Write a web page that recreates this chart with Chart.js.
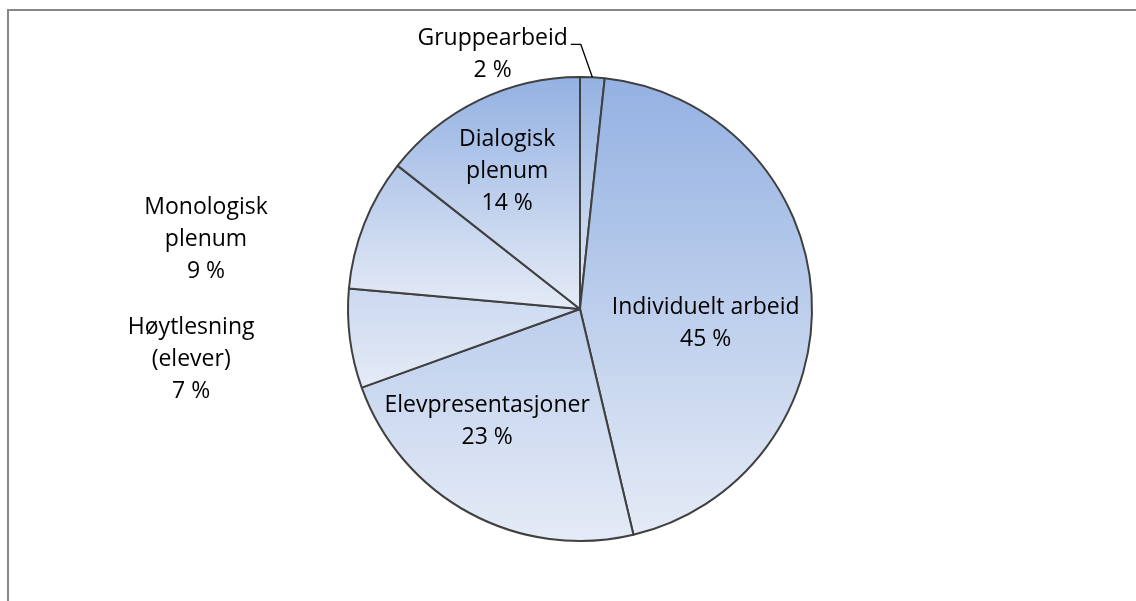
<!DOCTYPE html>
<html>
<head>
<meta charset="utf-8">
<script src="https://cdn.jsdelivr.net/npm/chart.js@4/dist/chart.umd.min.js"></script>
<style>
  html, body { margin: 0; padding: 0; background: #fff; }
  #wrap { position: relative; width: 1136px; height: 601px; overflow: hidden; }
  #frame {
    position: absolute; left: 7px; top: 9px; width: 1200px; height: 700px;
    border-left: 2px solid #888; border-top: 2px solid #888;
  }
  #chart { position: absolute; left: 0; top: 0; }
</style>
</head>
<body>
<div id="wrap">
  <div id="frame"></div>
  <canvas id="chart" width="1136" height="601"></canvas>
</div>
<script>
// Data (clockwise from 12 o'clock)
const categories = [
  ['Gruppearbeid'],
  ['Individuelt arbeid'],
  ['Elevpresentasjoner'],
  ['Høytlesning', '(elever)'],
  ['Monologisk', 'plenum'],
  ['Dialogisk', 'plenum']
];
const shares = [1.7, 44.6, 23.2, 6.9, 9.2, 14.4];
const percentLabels = ['2 %', '45 %', '23 %', '7 %', '9 %', '14 %'];

// Label placement: distance from centre (share of radius), angle nudge in degrees
const labelDistance = [1.16, 0.545, 0.63, 1.69, 1.64, 0.67];
const labelShift = [-22, 10, 11, 0, -11, -2];
const labelLeader = [true, false, false, false, false, false];

const FONT = '23px "Open Sans", sans-serif';
const LINE_H = 32;
const TOP_COLOR = '#93b1e2';
const BOTTOM_COLOR = '#e5ebf6';

function arcBottom(arc) {
  const { x, y, outerRadius: r, startAngle: a0, endAngle: a1 } = arc;
  const ys = [y, y + r * Math.sin(a0), y + r * Math.sin(a1)];
  const b = Math.PI / 2;
  if ((b >= a0 && b <= a1) || (b + 2 * Math.PI >= a0 && b + 2 * Math.PI <= a1)) ys.push(y + r);
  return Math.max(...ys);
}

// Each slice: gradient from top of the pie down to the lowest point of the slice
const sliceGradient = {
  id: 'sliceGradient',
  beforeDatasetsDraw(chart) {
    const ctx = chart.ctx;
    chart.getDatasetMeta(0).data.forEach(arc => {
      const g = ctx.createLinearGradient(0, arc.y - arc.outerRadius, 0, arcBottom(arc));
      g.addColorStop(0, TOP_COLOR);
      g.addColorStop(1, BOTTOM_COLOR);
      arc.options = Object.assign({}, arc.options, { backgroundColor: g });
    });
  }
};

const sliceLabels = {
  id: 'sliceLabels',
  afterDatasetsDraw(chart) {
    const ctx = chart.ctx;
    ctx.save();
    ctx.font = FONT;
    ctx.fillStyle = '#000';
    ctx.textAlign = 'center';
    ctx.textBaseline = 'middle';
    chart.getDatasetMeta(0).data.forEach((arc, i) => {
      const mid = (arc.startAngle + arc.endAngle) / 2;
      const ang = mid + labelShift[i] * Math.PI / 180;
      const d = labelDistance[i] * arc.outerRadius;
      const cx = arc.x + Math.cos(ang) * d;
      const lines = categories[i].concat([percentLabels[i]]);
      const y0 = arc.y + Math.sin(ang) * d - (lines.length - 1) * LINE_H / 2;
      lines.forEach((t, k) => ctx.fillText(t, cx, y0 + k * LINE_H));

      if (labelLeader[i]) {
        const w = ctx.measureText(categories[i][0]).width;
        const ly = y0 + 6;
        const lx = cx + w / 2 + 3;
        ctx.beginPath();
        ctx.moveTo(lx, ly);
        ctx.lineTo(lx + 10, ly);
        ctx.lineTo(arc.x + Math.cos(mid) * arc.outerRadius, arc.y + Math.sin(mid) * arc.outerRadius);
        ctx.strokeStyle = '#000';
        ctx.lineWidth = 1.3;
        ctx.stroke();
      }
    });
    ctx.restore();
  }
};

new Chart(document.getElementById('chart'), {
  type: 'pie',
  data: {
    labels: categories,
    datasets: [{
      data: shares,
      backgroundColor: shares.map(() => TOP_COLOR),
      borderColor: '#404040',
      borderWidth: 2,
      hoverOffset: 0
    }]
  },
  options: {
    responsive: false,
    animation: false,
    layout: { padding: { left: 347, right: 323, top: 76, bottom: 59 } },
    plugins: {
      legend: { display: false },
      tooltip: { enabled: false }
    }
  },
  plugins: [sliceGradient, sliceLabels]
});
</script>
</body>
</html>
